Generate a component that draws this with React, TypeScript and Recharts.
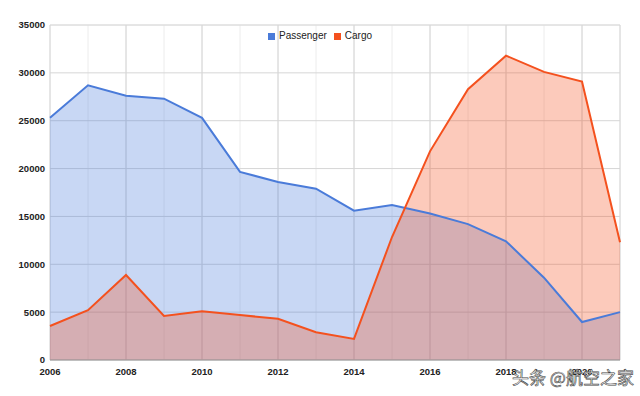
import { ComposedChart, Area, Line, XAxis, YAxis, CartesianGrid } from 'recharts';

const years = [2006, 2007, 2008, 2009, 2010, 2011, 2012, 2013, 2014, 2015, 2016, 2017, 2018, 2019, 2020, 2021];
const passenger = [25300, 28700, 27600, 27300, 25300, 19650, 18600, 17900, 15600, 16200, 15300, 14200, 12400, 8600, 3970, 5000];
const cargo = [3550, 5200, 8880, 4600, 5100, 4700, 4300, 2900, 2200, 12850, 21800, 28300, 31800, 30100, 29100, 12300];

const xTicks = [2006, 2008, 2010, 2012, 2014, 2016, 2018, 2020];
const yTicks = [0, 5000, 10000, 15000, 20000, 25000, 30000, 35000];
const minorYTicks = Array.from({ length: 36 }, (_, i) => i * 1000);

const BLUE = '#4a7bd9';
const RED = '#f4511e';

const data = years.map((year, i) => ({ year, passenger: passenger[i], cargo: cargo[i] }));

const tickStyle = { fontFamily: '"Liberation Sans", Arial, sans-serif', fontSize: 9.5, fontWeight: 700, fill: '#222' };

const App = () => {
  return (
    <div style={{ position: 'absolute', left: 0, top: 0, width: 640, height: 396 }}>
      <ComposedChart width={640} height={396} data={data} margin={{ top: 25, right: 20, left: 0, bottom: 6 }}>
        <CartesianGrid xAxisId="minor" yAxisId="minor" stroke="#ececec" />
        <CartesianGrid stroke="#d6d6d6" />
        <XAxis xAxisId="minor" dataKey="year" type="number" domain={[2006, 2021]} ticks={years} hide />
        <YAxis yAxisId="minor" domain={[0, 35000]} ticks={minorYTicks} hide />
        <XAxis
          dataKey="year"
          type="number"
          domain={[2006, 2021]}
          ticks={xTicks}
          height={30}
          tickLine={false}
          tickSize={0}
          tickMargin={8}
          axisLine={{ stroke: '#999' }}
          tick={tickStyle}
        />
        <YAxis
          domain={[0, 35000]}
          ticks={yTicks}
          width={50}
          axisLine={false}
          tickLine={false}
          tickSize={0}
          tickMargin={5}
          tick={tickStyle}
        />
        <Area dataKey="passenger" type="linear" stroke="none" fill={BLUE} fillOpacity={0.3} isAnimationActive={false} />
        <Area dataKey="cargo" type="linear" stroke="none" fill={RED} fillOpacity={0.3} isAnimationActive={false} />
        <Line dataKey="passenger" type="linear" stroke={BLUE} strokeWidth={2} dot={false} isAnimationActive={false} />
        <Line dataKey="cargo" type="linear" stroke={RED} strokeWidth={2} dot={false} isAnimationActive={false} />
      </ComposedChart>
      <div
        style={{
          position: 'absolute',
          top: 30,
          left: 0,
          width: 640,
          display: 'flex',
          justifyContent: 'center',
          fontFamily: '"Liberation Sans", Arial, sans-serif',
          fontSize: 10,
          color: '#222',
          lineHeight: '12px',
        }}
      >
        <span style={{ display: 'flex', alignItems: 'center', marginRight: 7 }}>
          <span style={{ width: 7, height: 7, background: BLUE, marginRight: 4 }} />
          Passenger
        </span>
        <span style={{ display: 'flex', alignItems: 'center' }}>
          <span style={{ width: 7, height: 7, background: RED, marginRight: 4 }} />
          Cargo
        </span>
      </div>
      <div
        style={{
          position: 'absolute',
          left: 512,
          top: 366,
          fontFamily: '"Noto Sans CJK SC", sans-serif',
          fontSize: 17,
          lineHeight: '22px',
          color: '#fff',
          WebkitTextStroke: '0.6px #444',
          whiteSpace: 'nowrap',
        }}
      >
        头条 @航空之家
      </div>
    </div>
  );
};

export default App;
